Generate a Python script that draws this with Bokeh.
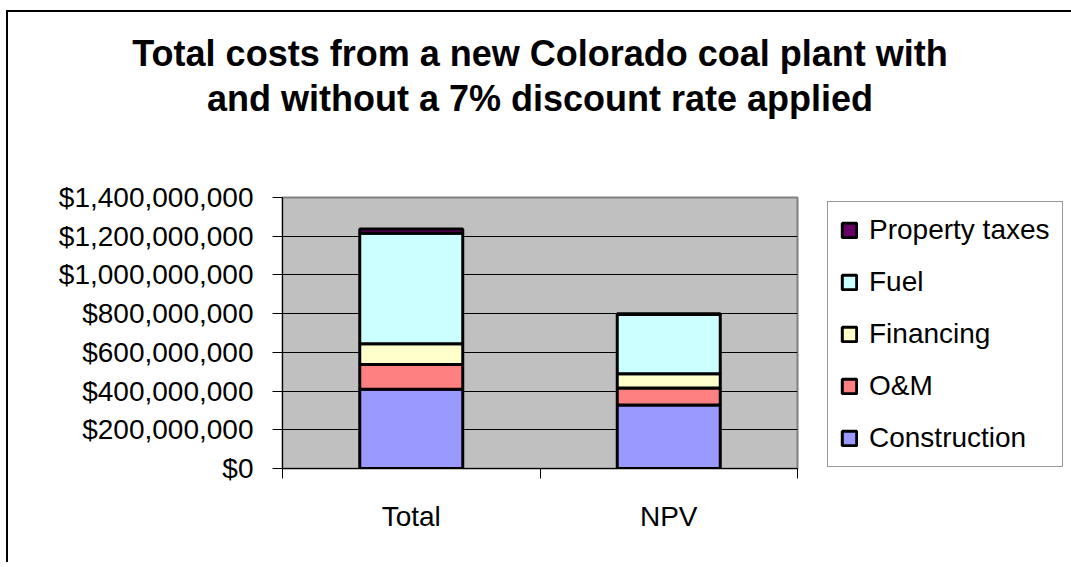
from bokeh.plotting import figure
from bokeh.models import (Legend, LegendItem, FixedTicker, NumeralTickFormatter,
                          Title, Range1d)
from bokeh.embed import file_html
from bokeh.resources import INLINE

categories = ["Total", "NPV"]
series = ["Construction", "O&M", "Financing", "Fuel", "Property taxes"]
construction = [410_000_000, 328_000_000]
om = [127_000_000, 88_000_000]
financing = [108_000_000, 74_000_000]
fuel = [570_000_000, 305_000_000]
property_taxes = [22_000_000, 5_000_000]
colors = ["#9999FF", "#FF8080", "#FFFFCC", "#CCFFFF", "#660066"]
title_lines = ["Total costs from a new Colorado coal plant with",
               "and without a 7% discount rate applied"]

FONT = "Liberation Sans"

x = [i + 0.5 for i in range(len(categories))]
data = {"x": x, "Construction": construction, "O&M": om, "Financing": financing,
        "Fuel": fuel, "Property taxes": property_taxes}

p = figure(frame_width=515, frame_height=271, output_backend="svg", toolbar_location=None,
           x_range=Range1d(0, len(categories)), y_range=Range1d(0, 1_400_000_000),
           min_border_left=274, min_border_right=268, min_border_top=185,
           min_border_bottom=94, tools="")
p.styles = {"border-left": "2px solid black", "border-top": "2px solid black",
            "margin-left": "6px", "margin-top": "10px"}

p.background_fill_color = "#C0C0C0"
p.border_fill_color = "white"
p.outline_line_color = "#808080"
p.outline_line_width = 2

renderers = p.vbar_stack(series, x="x", width=0.4, source=data, color=colors,
                         line_color="black", line_width=3)

# y axis
p.yaxis.ticker = FixedTicker(ticks=[i * 200_000_000 for i in range(8)])
p.yaxis.formatter = NumeralTickFormatter(format="$0,0")
p.yaxis.major_label_text_font = FONT
p.yaxis.major_label_text_font_size = "28px"
p.yaxis.major_label_text_color = "black"
p.yaxis.axis_line_color = "black"
p.yaxis.axis_line_width = 1
p.yaxis.major_tick_out = 10
p.yaxis.major_tick_in = 0
p.yaxis.minor_tick_line_color = None
p.yaxis.major_label_standoff = 19

# x axis
p.xaxis.ticker = FixedTicker(ticks=x, minor_ticks=list(range(len(categories) + 1)))
p.xaxis.major_label_overrides = {xi: c for xi, c in zip(x, categories)}
p.xaxis.major_label_text_font = FONT
p.xaxis.major_label_text_font_size = "28px"
p.xaxis.major_label_text_color = "black"
p.xaxis.axis_line_color = "black"
p.xaxis.major_tick_out = 0
p.xaxis.major_tick_in = 0
p.xaxis.minor_tick_out = 10
p.xaxis.minor_tick_in = 0
p.xaxis.minor_tick_line_color = "black"
p.xaxis.major_label_standoff = 22

p.xgrid.grid_line_color = None
p.ygrid.grid_line_color = "black"
p.ygrid.grid_line_width = 1

# invisible spacer between plot area and title
p.add_layout(Title(text=" ", text_font=FONT, text_font_size="10px", standoff=65), "above")
# title (two centred lines)
for line in title_lines[::-1]:
    p.add_layout(Title(text=line, align="center", text_font=FONT,
                       text_font_size="36px", text_font_style="bold",
                       text_color="black", standoff=2), "above")

# legend on the right
items = [LegendItem(label=s, renderers=[r]) for s, r in zip(series, renderers)][::-1]
legend = Legend(items=items, location=(30, 1), border_line_color="#333333",
                border_line_width=1, background_fill_color="white", background_fill_alpha=1,
                label_text_font=FONT, label_text_font_size="28px", label_text_color="black",
                glyph_width=18, glyph_height=18, label_height=30, spacing=20,
                padding=12, label_standoff=11, margin=0)
p.add_layout(legend, "right")

open("out.html", "w").write(file_html(p, INLINE))
